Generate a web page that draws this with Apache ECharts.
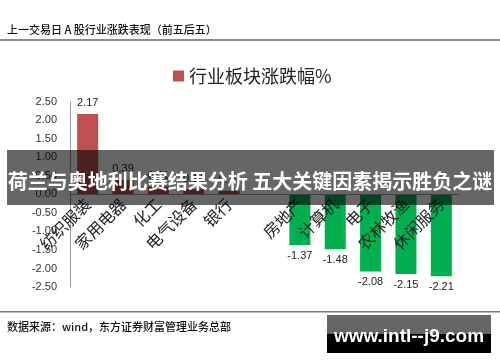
<!DOCTYPE html>
<html>
<head>
<meta charset="utf-8">
<script src="https://cdn.jsdelivr.net/npm/echarts@6/dist/echarts.min.js"></script>
<style>
html,body{margin:0;padding:0;background:#fff;}
#c{width:500px;height:362px;}
</style>
</head>
<body>
<div id="c"></div>
<script>
var categories = ['纺织服装','家用电器','化工','电气设备','银行','','房地产','计算机','电子','农林牧渔','休闲服务'];
var values = [2.17, 0.39, 0.21, 0.14, 0.10, null, -1.37, -1.48, -2.08, -2.15, -2.21];
var seriesName = '行业板块涨跌幅%';
var yTicks = {min: -2.5, max: 2.5, interval: 0.5};
var titleText = '上一交易日 A 股行业涨跌表现（前五后五）';
var sourceText = '数据来源：wind，东方证券财富管理业务总部';
var bannerText = '荷兰与奥地利比赛结果分析 五大关键因素揭示胜负之谜';
var watermarkText = 'www.intl--j9.com';

var chart = echarts.init(document.getElementById('c'), null, {renderer: 'canvas'});
var cjk = '"Noto Sans CJK SC", "Noto Sans", sans-serif';
var gridTop = 101.7, gridBottom = 75, H = 362;
var plotH = H - gridTop - gridBottom;
var zeroOffset = plotH * (0 - yTicks.min) / (yTicks.max - yTicks.min);
var option = {
  animation: false,
  backgroundColor: '#fff',
  legend: {
    left: 168, top: 62,
    icon: 'rect', itemWidth: 11, itemHeight: 11, itemGap: 6,
    textStyle: {fontSize: 18, color: '#222', fontFamily: cjk},
    data: [seriesName]
  },
  grid: {left: 70, right: 41, top: gridTop, bottom: gridBottom, containLabel: false},
  xAxis: {
    type: 'category',
    data: categories,
    z: 5,
    position: 'bottom',
    offset: -zeroOffset,
    axisLine: {show: true, onZero: false, lineStyle: {color: '#999', width: 1}},
    axisTick: {show: false},
    axisLabel: {rotate: 45, fontSize: 16, color: '#222', fontFamily: cjk, margin: 7, interval: 0}
  },
  yAxis: {
    type: 'value',
    min: yTicks.min, max: yTicks.max, interval: yTicks.interval,
    axisLine: {show: true, lineStyle: {color: '#999'}},
    axisTick: {show: false},
    splitLine: {show: false},
    axisLabel: {fontSize: 11, color: '#333', margin: 13, fontFamily: '"Liberation Sans", sans-serif',
      formatter: function (v) { return v.toFixed(2); }}
  },
  series: [{
    name: seriesName,
    type: 'bar',
    barWidth: 21,
    data: values.map(function (v) {
      if (v === null) return null;
      return {value: v, itemStyle: {color: v >= 0 ? '#C0504D' : '#00B050'},
        label: {position: v >= 0 ? 'top' : 'bottom'}};
    }),
    itemStyle: {color: '#C0504D'},
    label: {show: true, fontSize: 11, color: '#222', distance: 5,
      fontFamily: '"Liberation Sans", sans-serif',
      formatter: function (p) { return p.value.toFixed(2); }}
  }],
  graphic: [
    {type: 'text', left: 7, top: 24, z: 10,
      style: {text: titleText, fontSize: 11, fontWeight: 500, fill: '#111', fontFamily: cjk}},
    {type: 'rect', shape: {x: 0, y: 39, width: 500, height: 2}, style: {fill: '#8c8c8c'}, z: 10},
    {type: 'rect', shape: {x: 0, y: 311, width: 500, height: 1.5}, style: {fill: '#777'}, z: 10},
    {type: 'text', left: 7, top: 321, z: 10,
      style: {text: sourceText, fontSize: 11, fontWeight: 500, fill: '#111', fontFamily: cjk}},
    {type: 'rect', shape: {x: 7, y: 150, width: 487, height: 55}, style: {fill: 'rgba(0,0,0,0.6)'}, z: 20},
    {type: 'text', x: 250, y: 181, z: 21,
      style: {text: bannerText, fontSize: 20, fontWeight: 'bold', fill: '#fff', fontFamily: cjk,
        align: 'center', verticalAlign: 'middle'}},
    {type: 'rect', shape: {x: 327, y: 315, width: 164, height: 19}, style: {fill: '#666'}, z: 20},
    {type: 'rect', shape: {x: 327, y: 334, width: 164, height: 19}, style: {fill: '#000'}, z: 20},
    {type: 'text', x: 409, y: 337, z: 21,
      style: {text: watermarkText, fontSize: 19, fontWeight: 'bold', fill: '#fff',
        fontFamily: '"Liberation Sans", Arial, sans-serif', align: 'center', verticalAlign: 'middle'}}
  ]
};
chart.setOption(option);
</script>
</body>
</html>
